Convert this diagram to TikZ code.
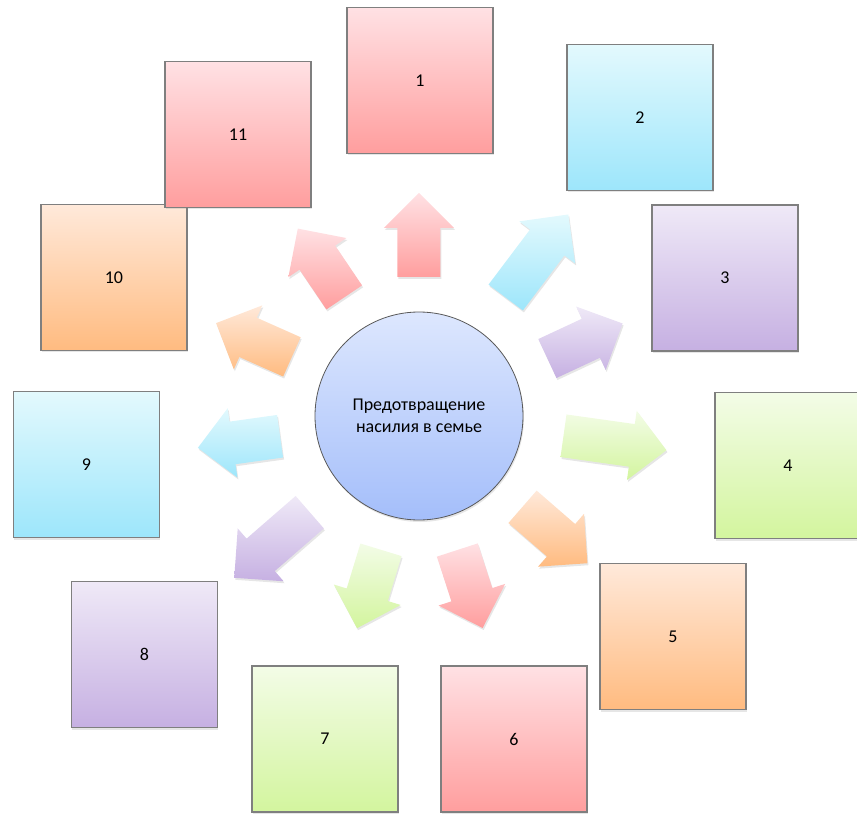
\documentclass[tikz,border=0pt]{standalone}
\usepackage{fontspec}
\setmainfont{Carlito}
\usetikzlibrary{shadows}
\definecolor{RedA}{HTML}{FFE1E4}
\definecolor{RedB}{HTML}{FF9E9E}
\definecolor{CyanA}{HTML}{E3F9FD}
\definecolor{CyanB}{HTML}{9DE6FB}
\definecolor{PurpleA}{HTML}{EFE9F7}
\definecolor{PurpleB}{HTML}{C6B0E2}
\definecolor{GreenA}{HTML}{F3FCE7}
\definecolor{GreenB}{HTML}{D3F59E}
\definecolor{OrangeA}{HTML}{FFE9DA}
\definecolor{OrangeB}{HTML}{FFBB80}
\definecolor{BlueA}{HTML}{DDE7FE}
\definecolor{BlueB}{HTML}{A4BEFA}
\definecolor{LineClr}{HTML}{7F7F7F}

\tikzset{
  box/.style={draw=LineClr,line width=1.3pt,minimum size=146pt,inner sep=0pt,
    top color=#1A,bottom color=#1B,font=\fontsize{18}{22}\selectfont,
    drop shadow={opacity=.2,shadow xshift=1pt,shadow yshift=-2pt}},
  hub/.style={circle,draw=black!65,line width=.8pt,minimum size=208pt,inner sep=0pt,
    top color=BlueA,bottom color=BlueB,align=center,font=\fontsize{18}{22}\selectfont,
    drop shadow={opacity=.2,shadow xshift=1pt,shadow yshift=-2pt}}
}

\newcommand{\BlockArrow}[4]{%
  \begin{scope}[shift={(#1)},rotate=#2]
    \shade[top color=#4A,bottom color=#4B,drop shadow={opacity=.2,shadow xshift=1pt,shadow yshift=-2pt}]
      ({-#3/2},-21.5) -- ({#3/2-35},-21.5) -- ({#3/2-35},-35) -- ({#3/2},0)
      -- ({#3/2-35},35) -- ({#3/2-35},21.5) -- ({-#3/2},21.5) -- cycle;
  \end{scope}}

\begin{document}
\begin{tikzpicture}[x=1pt,y=1pt]
\useasboundingbox (-419,-398) rectangle (438,416);

\node[hub] (hub) at (0,0) {Предотвращение\\насилия в семье};

\BlockArrow{0,181}{90}{84}{Red}
\BlockArrow{118,160}{53}{104}{Cyan}
\BlockArrow{166,75}{25}{83}{Purple}
\BlockArrow{196,-27}{-8}{104}{Green}
\BlockArrow{136,-119}{-41}{86}{Orange}
\BlockArrow{51,-173}{-72}{82}{Red}
\BlockArrow{-50,-173}{-107}{82}{Green}
\BlockArrow{-147,-129}{221}{100}{Purple}
\BlockArrow{-180,-26}{188}{83}{Cyan}
\BlockArrow{-165,76}{156}{83}{Orange}
\BlockArrow{-98,153}{124}{83}{Red}

\node[box=Red] (b1) at (1,335.5) {1};
\node[box=Cyan] (b2) at (221,298.5) {2};
\node[box=Purple] (b3) at (306,138) {3};
\node[box=Green] (b4) at (369,-49.5) {4};
\node[box=Orange] (b5) at (254,-220.5) {5};
\node[box=Red] (b6) at (95,-323) {6};
\node[box=Green] (b7) at (-94,-323) {7};
\node[box=Purple] (b8) at (-274.5,-238.5) {8};
\node[box=Cyan] (b9) at (-332.5,-48.5) {9};
\node[box=Orange] (b10) at (-305,138.5) {10};
\node[box=Red] (b11) at (-181,281.5) {11};

\end{tikzpicture}
\end{document}
